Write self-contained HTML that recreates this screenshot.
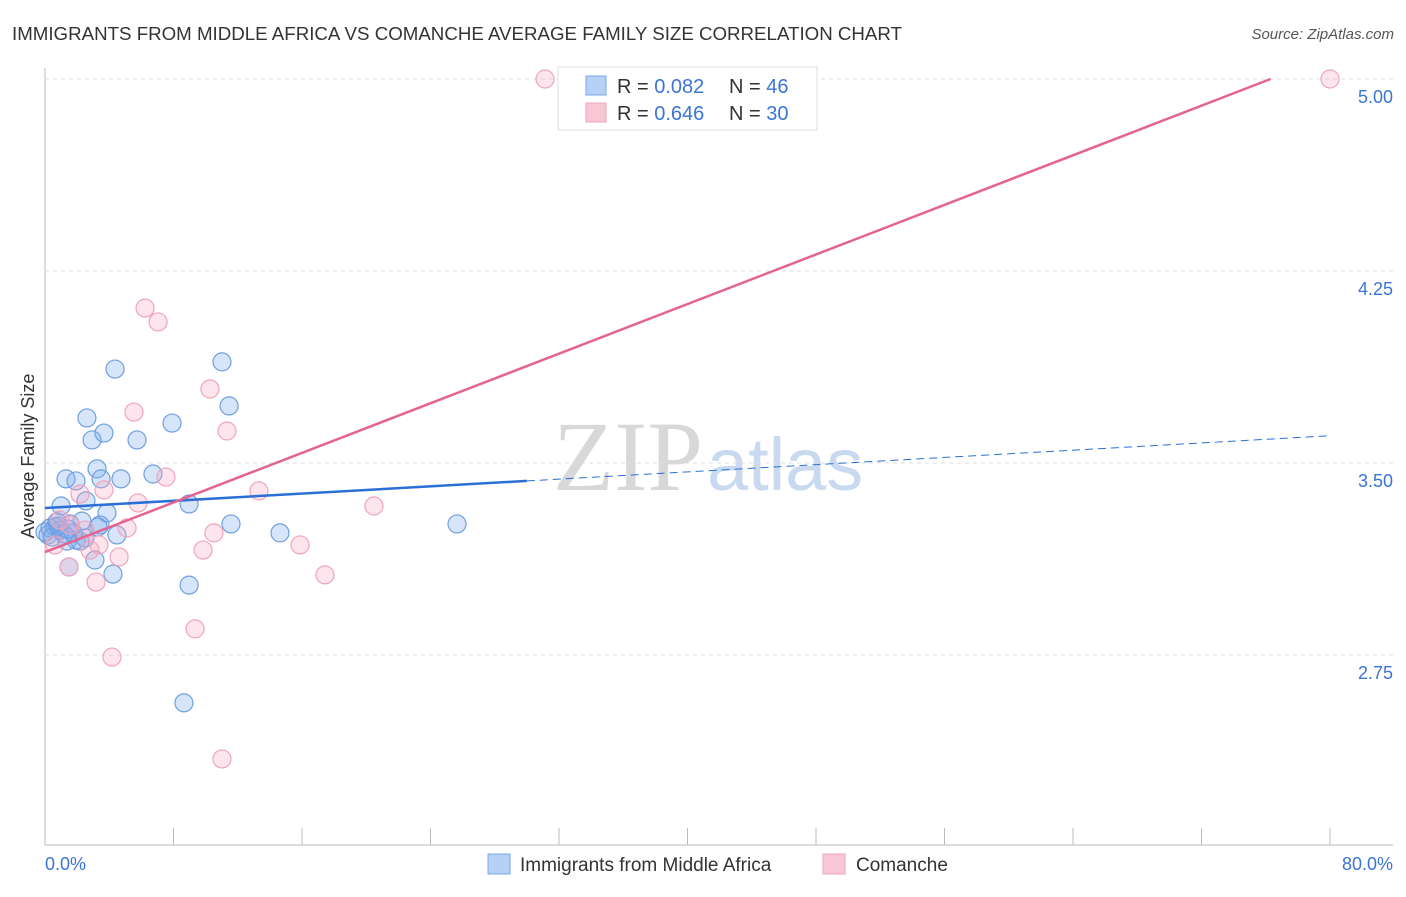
<!DOCTYPE html>
<html><head><meta charset="utf-8"><style>
body{margin:0;background:#fff;font-family:"Liberation Sans",sans-serif;}
</style></head><body>
<svg width="1406" height="892" xmlns="http://www.w3.org/2000/svg" id="svg">
<text x="12" y="40" font-size="18" fill="#333" textLength="890" lengthAdjust="spacingAndGlyphs">IMMIGRANTS FROM MIDDLE AFRICA VS COMANCHE AVERAGE FAMILY SIZE CORRELATION CHART</text>
<text x="1394" y="39" font-size="15" fill="#555" font-style="italic" text-anchor="end">Source: ZipAtlas.com</text>
<text x="553" y="490" font-size="100" fill="#d8d8d8" font-family="Liberation Serif">ZIP<tspan fill="#c9d9ef" font-family="Liberation Sans" font-size="74" dx="4">atlas</tspan></text>
<text x="34" y="456" font-size="18" fill="#333" text-anchor="middle" transform="rotate(-90 34 456)">Average Family Size</text>
<g id="grid"></g><g id="marks"></g>
<g>
<rect x="558" y="67" width="259" height="63" fill="#fff" stroke="#ddd"/>
<rect x="586" y="76" width="20" height="19" fill="#b7d0f5" stroke="#7ba7e6"/>
<rect x="586" y="103" width="20" height="19" fill="#f9c6d6" stroke="#efa3bd"/>
<text x="617" y="93" font-size="20" fill="#333">R = <tspan fill="#3a75d6">0.082</tspan><tspan x="729">N = </tspan><tspan fill="#3a75d6">46</tspan></text>
<text x="617" y="120" font-size="20" fill="#333">R = <tspan fill="#3a75d6">0.646</tspan><tspan x="729">N = </tspan><tspan fill="#3a75d6">30</tspan></text>
</g>
<g>
<rect x="488" y="854" width="22" height="20" fill="#b7d0f5" stroke="#7ba7e6"/>
<text x="520" y="871" font-size="19" fill="#333">Immigrants from Middle Africa</text>
<rect x="823" y="854" width="22" height="20" fill="#f9c6d6" stroke="#efa3bd"/>
<text x="856" y="871" font-size="19" fill="#333">Comanche</text>
</g>
<text x="45" y="870" font-size="18" fill="#3a75d6">0.0%</text>
<text x="1393" y="870" font-size="18" fill="#3a75d6" text-anchor="end">80.0%</text>
</svg>
<script>
const yTicks=[5.00,4.25,3.50,2.75];
const blueX=[4.36,11.02,11.46,2.61,7.91,2.93,3.67,5.73,3.24,6.72,1.31,1.93,3.49,4.73,1.00,2.55,8.97,3.86,2.30,1.56,3.42,11.58,25.65,14.63,4.48,0.31,0.62,0.19,0.93,0.44,1.37,1.93,2.18,1.18,3.11,1.49,4.23,8.97,8.65,0.75,1.74,0.0,0.81,2.49,1.43,3.30];
const blueY=[3.867,3.895,3.723,3.676,3.656,3.590,3.617,3.590,3.477,3.457,3.438,3.430,3.438,3.438,3.332,3.352,3.340,3.305,3.273,3.262,3.258,3.262,3.262,3.227,3.219,3.246,3.250,3.219,3.238,3.211,3.195,3.199,3.195,3.223,3.121,3.094,3.066,3.023,2.563,3.270,3.227,3.230,3.254,3.207,3.242,3.250];
const pinkX=[31.13,80,6.23,7.04,10.27,5.54,11.33,7.53,3.67,2.18,13.32,5.79,20.48,10.52,5.11,3.36,15.88,9.84,4.61,2.80,17.43,1.49,3.18,9.34,4.17,11.02,0.62,0.93,1.56,2.49];
const pinkY=[5.0,5.0,4.105,4.051,3.789,3.699,3.625,3.445,3.395,3.379,3.391,3.344,3.332,3.227,3.246,3.180,3.180,3.160,3.133,3.160,3.063,3.094,3.035,2.852,2.742,2.344,3.180,3.277,3.258,3.238];
const blueLine=[3.324,0.003533];
const pinkLine=[3.152,0.02422];
const X=v=>45+v/80*1285, Y=v=>463-(v-3.5)*256;
const NS='http://www.w3.org/2000/svg';
function mk(t,a,p){const e=document.createElementNS(NS,t);for(const k in a)e.setAttribute(k,a[k]);p.appendChild(e);return e;}
const g=document.getElementById('grid'),m=document.getElementById('marks');
let ax=mk('line',{x1:45,y1:68,x2:45,y2:845,stroke:'#bbb'},g);


let bx=mk('line',{x1:45,y1:845,x2:1393,y2:845,stroke:'#bbb'},g);


for(let i=0;i<=10;i++){let t=mk('line',{x1:X(i*8),y1:828,x2:X(i*8),y2:845,stroke:'#bbb'},g);

}
yTicks.forEach(v=>{let l=mk('line',{x1:45,y1:Y(v),x2:1393,y2:Y(v),stroke:'#ddd','stroke-dasharray':'4,4'},g);


let t=mk('text',{x:1393,y:Y(v)+24,'font-size':18,fill:'#3a75d6','text-anchor':'end'},g);t.textContent=v.toFixed(2);

});
blueX.forEach((x,i)=>{let c=mk('circle',{cx:X(x),cy:Y(blueY[i]),r:9,fill:'rgba(120,170,235,0.3)',stroke:'#6f9fe0','stroke-width':1.2},m);

});
pinkX.forEach((x,i)=>{let c=mk('circle',{cx:X(x),cy:Y(pinkY[i]),r:9,fill:'rgba(245,170,195,0.3)',stroke:'#f0a3bd','stroke-width':1.2},m);

});
let b1=mk('line',{x1:X(0),y1:Y(blueLine[0]),x2:X(30),y2:Y(blueLine[0]+30*blueLine[1]),stroke:'#2a6fd6','stroke-width':2.5},m);


let b2=mk('line',{x1:X(30),y1:Y(blueLine[0]+30*blueLine[1]),x2:X(80),y2:Y(blueLine[0]+80*blueLine[1]),stroke:'#2a6fd6','stroke-width':1,'stroke-dasharray':'8,5'},m);


const pe=(5-pinkLine[0])/pinkLine[1];
let p1=mk('line',{x1:X(0),y1:Y(pinkLine[0]),x2:X(pe),y2:Y(5),stroke:'#e4638f','stroke-width':2.5},m);


</script>
</body></html>
